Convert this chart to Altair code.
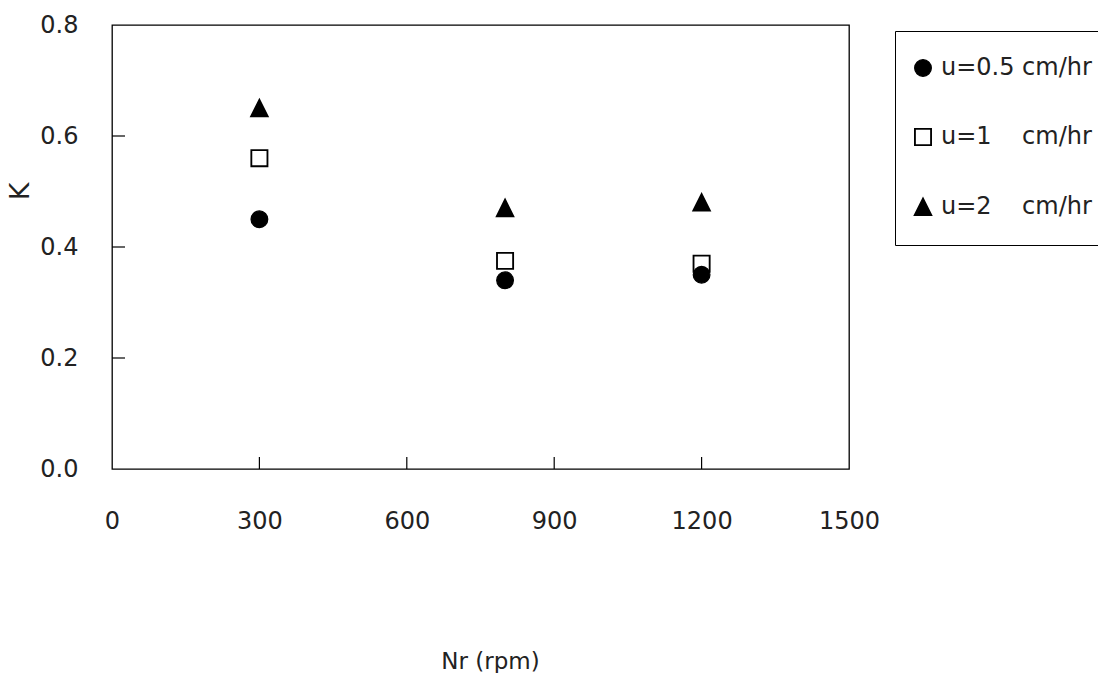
import altair as alt
import pandas as pd

# Rotational speed (rpm) and measured K for each superficial velocity
speeds = [300, 800, 1200]
k_u05 = [0.45, 0.34, 0.35]
k_u1 = [0.56, 0.375, 0.37]
k_u2 = [0.65, 0.47, 0.48]

# Legend labels (non-breaking spaces keep the "cm/hr" column aligned)
series_labels = [
    "u=0.5 cm/hr",
    "u=1\u00a0\u00a0\u00a0\u00a0cm/hr",
    "u=2\u00a0\u00a0\u00a0\u00a0cm/hr",
]

x_ticks = [0, 300, 600, 900, 1200, 1500]
y_ticks = [0.0, 0.2, 0.4, 0.6, 0.8]
x_inner_ticks = [300, 600, 900, 1200]
y_inner_ticks = [0.2, 0.4, 0.6]

FONT = "DejaVu Sans"
W, H = 737, 444

rows = []
# squares and triangles first so the filled circles sit on top
for label, ks in [(series_labels[1], k_u1), (series_labels[2], k_u2), (series_labels[0], k_u05)]:
    for s, k in zip(speeds, ks):
        rows.append({"Nr": s, "K": k, "series": label})
df = pd.DataFrame(rows)

x_scale = alt.Scale(domain=[0, 1500], nice=False, zero=False)
y_scale = alt.Scale(domain=[0, 0.8], nice=False, zero=False)

x_axis = alt.Axis(
    values=x_ticks,
    format="d",
    title="Nr (rpm)",
    titleX=378,
    titleY=192,
    titleAlign="center",
    titleBaseline="middle",
    titleFontSize=23,
    tickSize=0,
    domain=False,
    grid=False,
    labelPadding=52,
    labelBaseline="middle",
    labelFlush=False,
)
y_axis = alt.Axis(
    values=y_ticks,
    format=".1f",
    title="K",
    titleAngle=270,
    titleX=-92,
    titleY=166,
    titleAlign="center",
    titleBaseline="middle",
    titleFontSize=27,
    tickSize=0,
    domain=False,
    grid=False,
    labelPadding=34,
    labelFlush=False,
)

legend = alt.Legend(
    title=None,
    orient="none",
    legendX=783,
    legendY=6,
    strokeColor="black",
    fillColor="white",
    padding=25,
    rowPadding=45,
    labelFont=FONT,
    labelFontSize=24,
    labelColor="#222222",
    labelOffset=6,
    symbolOffset=-9,
    symbolOpacity=1,
)

enc_common = dict(sort=series_labels, legend=legend)

points = alt.Chart(df).mark_point(
    filled=True, opacity=1
).encode(
    x=alt.X("Nr:Q", scale=x_scale, axis=x_axis),
    y=alt.Y("K:Q", scale=y_scale, axis=y_axis),
    shape=alt.Shape(
        "series:N",
        scale=alt.Scale(domain=series_labels, range=["circle", "square", "M0,-1L-1,1L1,1Z"]),
        **enc_common,
    ),
    fill=alt.Fill(
        "series:N",
        scale=alt.Scale(domain=series_labels, range=["black", "transparent", "black"]),
        **enc_common,
    ),
    stroke=alt.Stroke(
        "series:N",
        scale=alt.Scale(domain=series_labels, range=["black", "black", "black"]),
        **enc_common,
    ),
    strokeWidth=alt.StrokeWidth(
        "series:N",
        scale=alt.Scale(domain=series_labels, range=[1.2, 2.5, 1.2]),
        **enc_common,
    ),
    size=alt.Size(
        "series:N",
        scale=alt.Scale(domain=series_labels, range=[280, 240, 361]),
        **enc_common,
    ),
)

# inward-pointing tick marks along the bottom and left edges
x_tick_rules = alt.Chart(pd.DataFrame({"Nr": x_inner_ticks})).mark_rule(
    color="black", strokeWidth=1.2
).encode(
    x=alt.X("Nr:Q", scale=x_scale, axis=x_axis),
    y=alt.value(H),
    y2=alt.value(H - 12),
)

y_tick_rules = alt.Chart(pd.DataFrame({"K": y_inner_ticks})).mark_rule(
    color="black", strokeWidth=1.2
).encode(
    y=alt.Y("K:Q", scale=y_scale, axis=y_axis),
    x=alt.value(0),
    x2=alt.value(13),
)

chart = (
    alt.layer(x_tick_rules, y_tick_rules, points)
    .properties(
        width=W,
        height=H,
        padding={"left": 112, "top": 25, "right": 249, "bottom": 204},
        autosize=alt.AutoSizeParams(type="none"),
        background="white",
    )
    .configure_view(stroke="black", strokeWidth=1.3)
    .configure_axis(
        labelFont=FONT,
        labelFontSize=24,
        labelColor="#222222",
        titleFont=FONT,
        titleFontWeight="normal",
        titleColor="#222222",
    )
)

chart.save("out.html", embed_options={"renderer": "svg", "actions": False})
